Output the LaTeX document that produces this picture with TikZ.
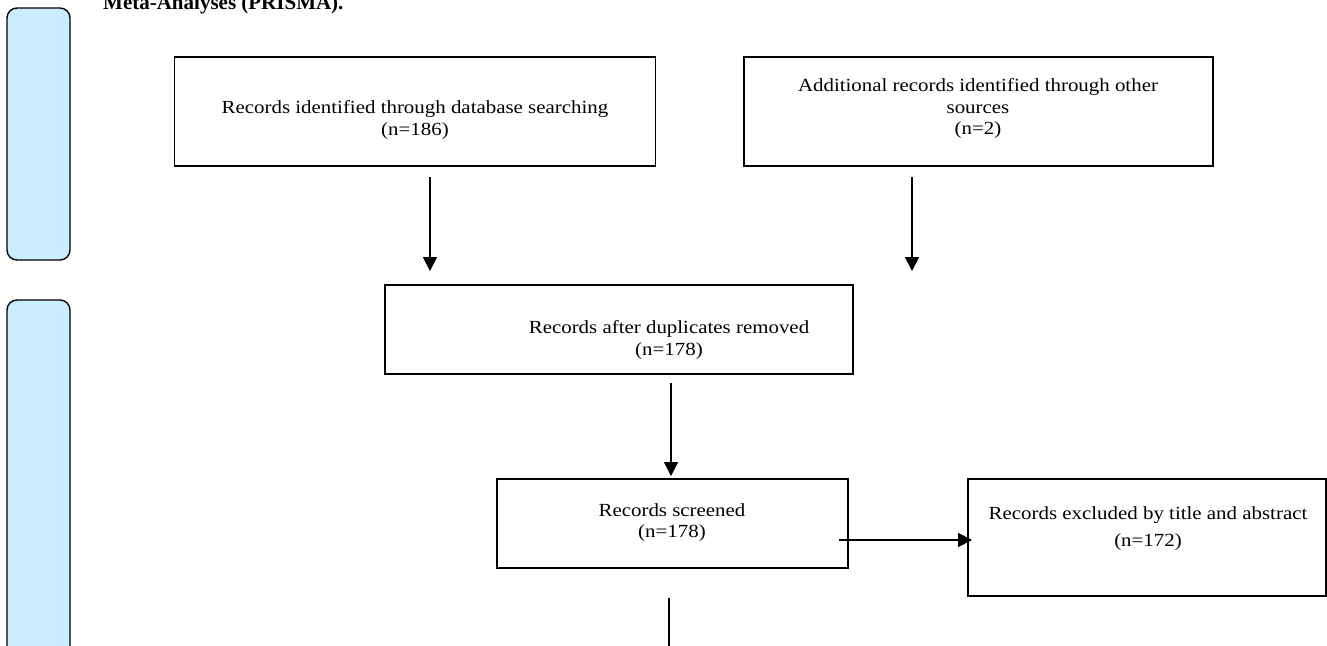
\documentclass[tikz,border=0pt]{standalone}
\usepackage{fontspec}
\setmainfont{Liberation Serif}[FakeStretch=1.13]
\newfontfamily\titlefont{Liberation Serif}
\usetikzlibrary{arrows.meta,calc}
\definecolor{sideblue}{HTML}{CCECFF}
\begin{document}
\begin{tikzpicture}[x=1pt,y=-1pt,
  box/.style={draw=black, line width=1.9pt, rectangle, inner sep=0pt},
  txt/.style={inner sep=0pt, align=center, font=\fontsize{18.5}{21.5}\selectfont},
  side/.style={draw=black, line width=1.4pt, fill=sideblue, rounded corners=10pt, inner sep=0pt},
  arr/.style={line width=1.4pt, -{Triangle[width=14pt,length=14pt]}}]
\useasboundingbox (0,0) rectangle (1327,645);
\clip (0,0) rectangle (1327,645);
% side bars
\node[side, minimum width=63, minimum height=252] (s1) at (38.5,134) {};
\node[side, minimum width=63, minimum height=400] (s2) at (38.5,500) {};
% title (cut off at top)
\node[anchor=base west, inner sep=0pt, font=\titlefont\bfseries\fontsize{21}{24}\selectfont] (title) at (103,9.5) {Meta-Analyses (PRISMA).};
% boxes
\node[box, minimum width=481, minimum height=109] (a) at (415,111.5) {};
\node[box, minimum width=469, minimum height=109] (b) at (978.5,111.5) {};
\node[box, minimum width=468, minimum height=89] (c) at (619,329.5) {};
\node[box, minimum width=351, minimum height=89] (d) at (672.5,523.5) {};
\node[box, minimum width=358, minimum height=117] (e) at (1147,537.5) {};
% texts
\node[txt] (ta) at (415,120.2) {Records identified through database searching\\(n=186)};
\node[txt] (tb) at (978,108.7) {Additional records identified through other\\sources\\(n=2)};
\node[txt] (tc) at (669,339.8) {Records after duplicates removed\\(n=178)};
\node[txt] (td) at (672,522.5) {Records screened\\(n=178)};
\node[txt, font=\fontsize{18.5}{27}\selectfont] (te) at (1148,528.2) {Records excluded by title and abstract\\(n=172)};
% connectors
\draw[arr] ($(a.south)+(15,10)$) -- ($(c.north)+(-189,-13)$);
\draw[arr] ($(b.south)+(-66.5,10)$) -- ($(c.north)+(293,-13)$);
\draw[arr] ($(c.south)+(52,8)$) -- ($(d.north)+(-1.5,-2)$);
\draw[arr] ($(d.east)+(-10,16.5)$) -- ($(e.west)+(5,2.5)$);
\coordinate (fend) at (669,660);
\draw[line width=1.4pt] ($(d.south)+(-3.5,29)$) -- (fend);
\end{tikzpicture}
\end{document}
